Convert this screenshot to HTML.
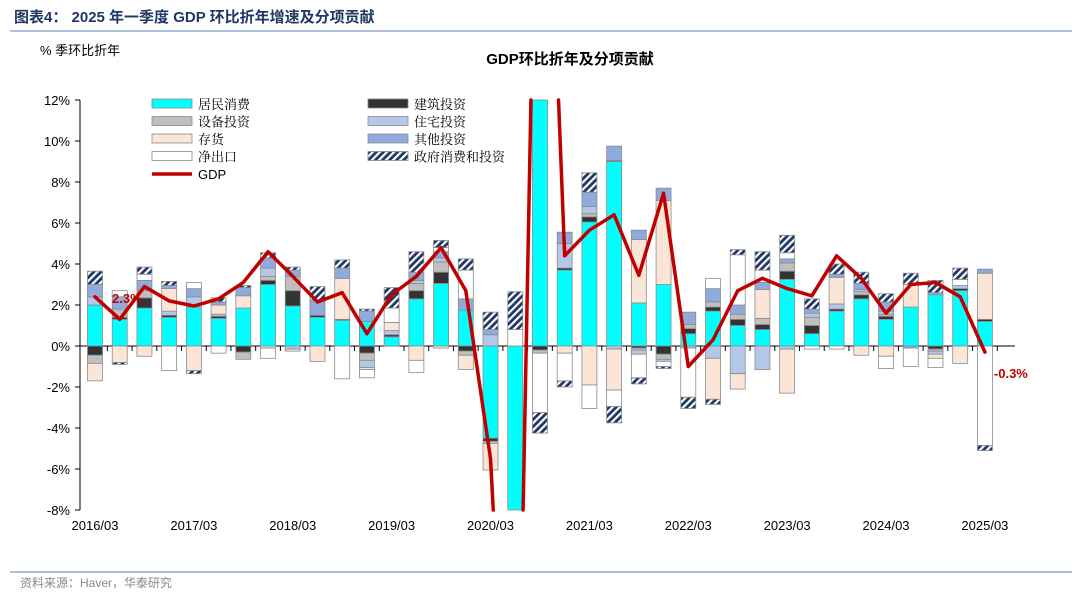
<!DOCTYPE html>
<html><head><meta charset="utf-8">
<style>
html,body{margin:0;padding:0;background:#fff;width:1080px;height:602px;overflow:hidden;font-family:"Liberation Sans","Noto Sans CJK SC",sans-serif;}
#wrap{position:relative;width:1080px;height:602px;overflow:hidden;}
svg{display:block;}
</style></head>
<body>
<div id="wrap">
<svg id="svg" width="1080" height="602" viewBox="0 0 1080 602" overflow="hidden" xmlns="http://www.w3.org/2000/svg">
<defs>
<pattern id="hatch" width="5" height="5" patternUnits="userSpaceOnUse" patternTransform="rotate(45)">
<rect width="5" height="5" fill="#1F3864"/><rect width="2.2" height="5" fill="#fff"/>
</pattern>
</defs>
<text x="14" y="22" font-size="15" font-weight="bold" fill="#1F3864">图表4：  2025 年一季度 GDP 环比折年增速及分项贡献</text>
<line x1="10" y1="31" x2="1072" y2="31" stroke="#5B7FB5" stroke-width="1"/>
<text x="40" y="55" font-size="13" fill="#000">% 季环比折年</text>
<text x="570" y="64" font-size="15" font-weight="bold" text-anchor="middle">GDP环比折年及分项贡献</text>
<g id="axes"></g>
<g id="bars"></g>
<g id="line"></g>
<g id="legend"></g>
<line x1="10" y1="572" x2="1072" y2="572" stroke="#5B7FB5" stroke-width="1"/>
<text x="20" y="587" font-size="12" fill="#888">资料来源：Haver，华泰研究</text>
</svg>
</div>
<script>
const quarters = ["2016/03","2016/06","2016/09","2016/12","2017/03","2017/06","2017/09","2017/12","2018/03","2018/06","2018/09","2018/12","2019/03","2019/06","2019/09","2019/12","2020/03","2020/06","2020/09","2020/12","2021/03","2021/06","2021/09","2021/12","2022/03","2022/06","2022/09","2022/12","2023/03","2023/06","2023/09","2023/12","2024/03","2024/06","2024/09","2024/12","2025/03"];
const consumption = [2.0,1.3,1.85,1.4,1.9,1.35,1.85,3.0,1.95,1.4,1.25,1.2,0.45,2.3,3.05,1.75,-4.5,-28,25,3.7,6.05,9.0,2.1,3.0,0.6,1.7,1.0,0.8,3.25,0.6,1.7,2.3,1.3,1.9,2.5,2.7,1.2];
const structures = [-0.45,0.1,0.5,0.1,0,0.1,-0.3,0.2,0.75,0.1,0.05,-0.35,0.1,0.4,0.55,-0.25,-0.15,0,-0.2,0.1,0.25,0.05,-0.1,-0.4,0.25,0.2,0.3,0.25,0.4,0.4,0.1,0.2,0.15,0,-0.15,0.1,0.1];
const equipment = [-0.4,0.4,0.35,0,0,0,-0.35,0.2,0.7,0,0,-0.35,0,0.35,0.5,-0.2,-0.1,0,-0.15,0,0.15,0,-0.1,-0.25,0.2,0.25,0.25,0.3,0.4,0.4,0,0.15,0.1,0,-0.1,0,0];
const residential = [0.4,0,0,0.2,0.5,0.1,0,0.4,-0.15,0,0,-0.35,0.2,0.15,0.2,0,0.55,0,0,1.2,0.35,-0.15,-0.2,-0.1,-0.1,-0.6,-1.35,-1.15,-0.15,0.2,0.25,0.1,0.15,0,-0.15,0.15,0];
const inventories = [-0.85,-0.8,-0.5,1.1,-1.2,0.45,0.6,-0.1,-0.1,-0.75,2.0,-0.1,0.4,-0.7,-0.1,-0.7,-1.3,0,0,-0.35,-1.9,-2.0,3.1,4.1,0,-2.0,-0.75,1.4,-2.15,0,1.3,-0.45,-0.5,1.1,-0.2,-0.85,2.25];
const otherInv = [0.6,0.6,0.5,0.15,0.4,0.15,0.4,0.5,0.3,0.75,0.5,0.5,0,0.4,0.3,0.55,0.25,0,0,0.55,0.7,0.7,0.45,0.6,0.6,0.65,0.45,0.35,0.2,0.2,0.15,0.3,0.45,-0.1,0.1,0,0.2];
const netExports = [0,0.3,0.3,-1.2,0.3,-0.35,0,-0.5,0,0,-1.6,-0.4,0.7,-0.6,0.2,1.4,0,0.8,-2.9,-1.35,-1.15,-0.8,-1.15,-0.25,-2.4,0.5,2.45,0.6,0.3,-0.15,-0.15,0,-0.6,-0.9,-0.45,0.3,-4.85];
const government = [0.65,-0.1,0.35,0.2,-0.15,0.2,0.1,0.25,0.15,0.65,0.4,0.1,1.0,1.0,0.35,0.55,0.85,1.85,-1.0,-0.3,0.95,-0.8,-0.3,-0.1,-0.55,-0.25,0.25,0.9,0.85,0.5,0.5,0.55,0.4,0.55,0.6,0.55,-0.25];
const gdp = [2.4,1.3,2.9,2.2,1.95,2.3,3.1,4.6,3.4,2.15,2.6,0.6,2.5,3.4,4.8,2.7,-5.5,-28,35,4.4,5.65,6.4,3.45,7.45,-1.0,0.3,2.7,3.3,2.8,2.45,4.4,3.3,1.6,3.0,3.1,2.4,-0.3];
const labelValues = [2.3,-0.3];
const yTicks = [12,10,8,6,4,2,0,-2,-4,-6,-8];
const seriesNames = ["居民消费","建筑投资","设备投资","住宅投资","存货","其他投资","净出口","政府消费和投资"];

const fills = ["#00FFFF","#333333","#BFBFBF","#B4C7E7","#FBE5D6","#8FAADC","#FFFFFF","url(#hatch)"];
const seriesKeys = ["consumption","structures","equipment","residential","inventories","other-investment","net-exports","government"];
const data = [consumption,structures,equipment,residential,inventories,otherInv,netExports,government];
const NS="http://www.w3.org/2000/svg";
const x0=95, dx=24.72, yZero=346, pxPer=20.5, yMax=12, yMin=-8;
const X=i=>x0+i*dx;
const Y=v=>yZero-v*pxPer;
const clampV=v=>Math.max(yMin,Math.min(yMax,v));
function mk(tag,attrs,parent){const e=document.createElementNS(NS,tag);for(const k in attrs)e.setAttribute(k,attrs[k]);parent.appendChild(e);return e;}

const axes=document.getElementById('axes');
let ya=mk('line',{x1:80,y1:100,x2:80,y2:510,stroke:'#000','stroke-width':1},axes);


yTicks.forEach(v=>{
  const t=mk('text',{x:70,y:Y(v)+5,'font-size':13,'text-anchor':'end'},axes);
  t.textContent=v+'%';
  
  
  const tk=mk('line',{x1:75,y1:Y(v),x2:80,y2:Y(v),stroke:'#000'},axes);
  
  
});
quarters.forEach((q,i)=>{
  if(i%4===0){
    const t=mk('text',{x:X(i),y:530,'font-size':13,'text-anchor':'middle'},axes);
    t.textContent=q;
    
    
  }
});

const bars=document.getElementById('bars');
const bw=15;
quarters.forEach((q,i)=>{
  let pos=0,neg=0;
  data.forEach((arr,s)=>{
    const v=arr[i]; if(!v) return;
    let a,b;
    if(v>0){a=pos;b=pos+v;pos+=v;} else {a=neg+v;b=neg;neg+=v;}
    const ca=clampV(a), cb=clampV(b);
    if(cb-ca<=0) return;
    const y1=Y(cb), y2=Y(ca);
    const r=mk('rect',{x:X(i)-bw/2,y:y1,width:bw,height:Math.max(0.5,y2-y1),fill:fills[s],stroke:'#8c8c8c','stroke-width':0.8},bars);
    
    
  });
});
let za=mk('line',{x1:80,y1:yZero,x2:1015,y2:yZero,stroke:'#000','stroke-width':1},axes);


quarters.forEach((q,i)=>{
  const tk=mk('line',{x1:X(i)+dx/2,y1:yZero,x2:X(i)+dx/2,y2:yZero+5,stroke:'#000'},axes);
  
  
});

// GDP line, clipped manually to plot range
let d='';
for(let i=0;i<gdp.length-1;i++){
  let xa=X(i), va=gdp[i], xb=X(i+1), vb=gdp[i+1];
  if((va>yMax&&vb>yMax)||(va<yMin&&vb<yMin)) continue;
  let t0=0,t1=1;
  const dv=vb-va;
  [yMax,yMin].forEach(lim=>{
    if(dv!==0){
      const t=(lim-va)/dv;
      if(lim===yMax){ if(dv>0) t1=Math.min(t1,t); else t0=Math.max(t0,t); }
      else { if(dv<0) t1=Math.min(t1,t); else t0=Math.max(t0,t); }
    }
  });
  if(t0>=t1) continue;
  const p0x=xa+(xb-xa)*t0, p0v=va+dv*t0, p1x=xa+(xb-xa)*t1, p1v=va+dv*t1;
  d+='M'+p0x.toFixed(2)+','+Y(p0v).toFixed(2)+' L'+p1x.toFixed(2)+','+Y(p1v).toFixed(2)+' ';
}
const lg=document.getElementById('line');
const pl=mk('path',{d:d,fill:'none',stroke:'#C00000','stroke-width':3.5,'stroke-linejoin':'round','stroke-linecap':'round'},lg);



const svg=document.getElementById('svg');
const l1=mk('text',{x:X(0)+17,y:303,'font-size':13,'font-weight':'bold',fill:'#C00000'},svg);
l1.textContent=labelValues[0].toFixed(1)+'%';


const l2=mk('text',{x:X(36)+9,y:378,'font-size':13,'font-weight':'bold',fill:'#C00000'},svg);
l2.textContent=labelValues[1].toFixed(1)+'%';



const leg=document.getElementById('legend');
seriesNames.forEach((n,s)=>{
  const col=s%2, row=Math.floor(s/2);
  const lx=col?368:152, ly=99+row*17.5;
  const r=mk('rect',{x:lx,y:ly,width:40,height:9,fill:fills[s],stroke:'#8c8c8c','stroke-width':0.8},leg);
  
  
  const t=mk('text',{x:lx+46,y:ly+10,'font-size':13,'font-family':'"Noto Serif CJK SC",serif'},leg);
  t.textContent=n;
  
  
});
const gl=mk('line',{x1:152,y1:174,x2:192,y2:174,stroke:'#C00000','stroke-width':3.5},leg);


const gt=mk('text',{x:198,y:179,'font-size':13},leg);
gt.textContent='GDP';


</script>
</body></html>
